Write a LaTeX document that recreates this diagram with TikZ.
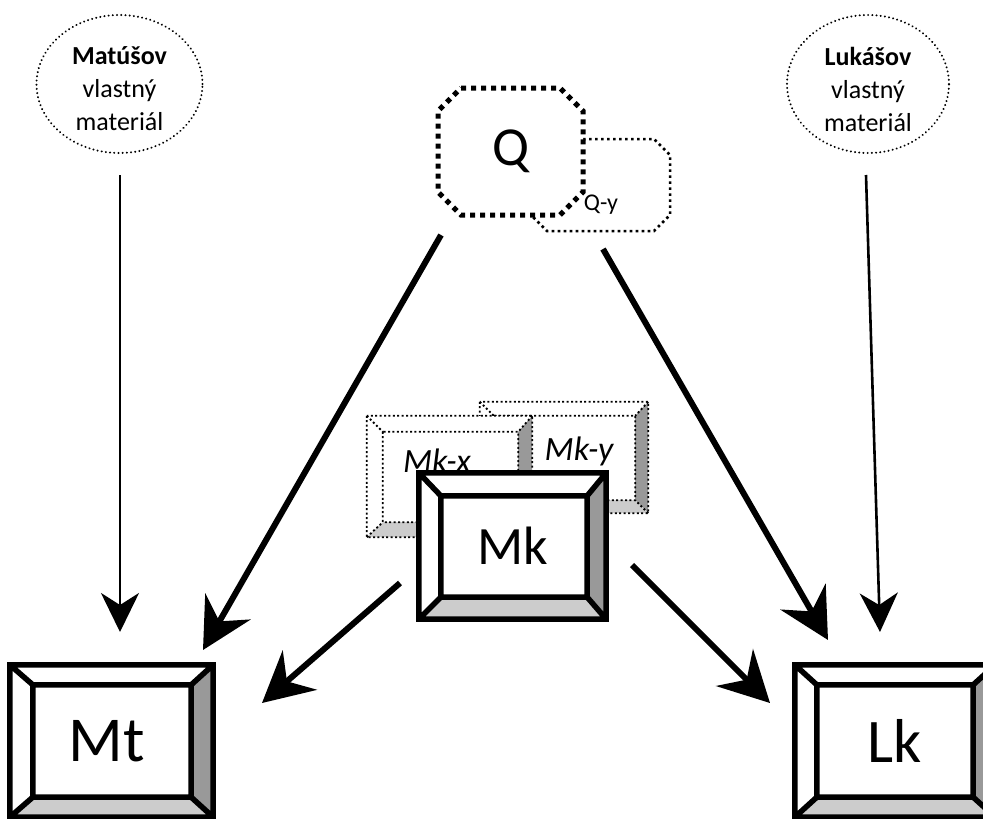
\documentclass[tikz,border=0pt]{standalone}
\usepackage{fontspec}
\setmainfont{Carlito}
\usetikzlibrary{arrows.meta,shapes.geometric,calc}

\definecolor{bevdark}{HTML}{999999}
\definecolor{bevlight}{HTML}{CCCCCC}

\tikzset{
  x=1pt, y=-1pt,
  keynode/.style={rectangle, inner sep=0pt, draw=none, fill=white},
  keyframe/.style={line width=5.5pt, line join=miter},
  keyghost/.style={line width=1.8pt, dash pattern=on 2pt off 2.4pt},
  srcell/.style={ellipse, inner sep=0pt, draw, line width=2.2pt, line cap=round,
    dash pattern=on 0.01pt off 4.2pt},
  srctext/.style={align=center, font=\fontsize{26}{33}\selectfont},
  qline/.style={line width=5pt, dash pattern=on 5pt off 5pt, fill=white},
  qyline/.style={line width=2.5pt, dash pattern=on 2.6pt off 3.4pt, fill=white},
  hidenode/.style={rectangle, inner sep=0pt, draw=none},
  thinarrow/.style={line width=2.6pt, -{Stealth[length=39pt, width=38pt, inset=12pt]}},
  thickarrow/.style={line width=6pt, -{Stealth[length=50pt, width=52pt, inset=17pt]}},
}

% bevelled key: node name, left, top, right, bottom bevel widths, line style
\newcommand\keybevel[6]{%
  \coordinate (#1-inw) at ($(#1.north west)+(#2,#3)$);
  \coordinate (#1-ine) at ($(#1.north east)+(-#4,#3)$);
  \coordinate (#1-ise) at ($(#1.south east)+(-#4,-#5)$);
  \coordinate (#1-isw) at ($(#1.south west)+(#2,-#5)$);
  \fill[bevdark] (#1.north east) -- (#1.south east) -- (#1-ise) -- (#1-ine) -- cycle;
  \fill[bevlight] (#1.south west) -- (#1.south east) -- (#1-ise) -- (#1-isw) -- cycle;
  \draw[#6] (#1.north west) rectangle (#1.south east)
    (#1-inw) rectangle (#1-ise)
    (#1.north west) -- (#1-inw) (#1.north east) -- (#1-ine)
    (#1.south east) -- (#1-ise) (#1.south west) -- (#1-isw);
}

% chamfered octagon: style, x1, y1, x2, y2, chamfer
\newcommand\octagon[6]{%
  \filldraw[#1] (#2+#6,#3) -- (#4-#6,#3) -- (#4,#3+#6) -- (#4,#5-#6)
    -- (#4-#6,#5) -- (#2+#6,#5) -- (#2,#5-#6) -- (#2,#3+#6) -- cycle;
}

\begin{document}
\begin{tikzpicture}
\useasboundingbox (0,0) rectangle (983,819);

% own material sources
\node[srcell, minimum width=166pt, minimum height=138pt] (mat) at (119.5,84) {};
\node[srctext] (matT) at (119.5,89) {\textbf{Matúšov}\\vlastný\\materiál};
\node[srcell, minimum width=162pt, minimum height=138pt] (luk) at (868,84) {};
\node[srctext] (lukT) at (868,89) {\textbf{Lukášov}\\vlastný\\materiál};

% Q and its shadow Q-y
\octagon{qyline}{531}{139}{670}{231}{16}
\node[hidenode, minimum width=139pt, minimum height=92pt] (Qy) at (600.5,185) {};
\octagon{qline}{438}{88}{583}{215}{23}
\node[hidenode, minimum width=145pt, minimum height=127pt,
      font=\fontsize{55}{62}\selectfont] (Q) at (510.5,151.5) {Q};
\node[anchor=base, font=\fontsize{24}{28}\selectfont, inner sep=0pt] (QyT) at (601,210) {Q-y};

% Mk and its shadows
\node[keynode, minimum width=168pt, minimum height=111pt] (Mky) at (564,457.5) {};
\keybevel{Mky}{14}{14}{13}{13}{keyghost}
\node[anchor=base, inner sep=0pt, font=\fontsize{34}{40}\selectfont\itshape] (MkyT) at (579,460) {Mk-y};

\node[keynode, minimum width=165pt, minimum height=121pt] (Mkx) at (449.5,476.5) {};
\keybevel{Mkx}{16}{16}{14}{15}{keyghost}
\node[anchor=base, inner sep=0pt, font=\fontsize{34}{40}\selectfont\itshape] (MkxT) at (437,472) {Mk-x};

\node[keynode, minimum width=187pt, minimum height=146pt,
      font=\fontsize{54}{62}\selectfont] (Mk) at (512.5,546) {Mk};
\keybevel{Mk}{22}{23}{19}{22}{keyframe}

% recipients
\node[keynode, minimum width=203pt, minimum height=152pt,
      font=\fontsize{64}{74}\selectfont] (Mt) at (111.5,741) {Mt\hspace*{10pt}};
\keybevel{Mt}{23}{20}{22}{20}{keyframe}
\node[keynode, minimum width=200pt, minimum height=152pt,
      font=\fontsize{62}{72}\selectfont] (Lk) at (895,741) {Lk};
\keybevel{Lk}{22}{20}{22}{20}{keyframe}

% connector end points
\coordinate (matS) at (120,175);
\coordinate (matE) at (120,632);
\coordinate (lukS) at (866,175);
\coordinate (lukE) at (880,632);
\coordinate (qlS) at (441,235);
\coordinate (qlE) at (203,650);
\coordinate (qrS) at (603,249);
\coordinate (qrE) at (828,640);
\coordinate (mklS) at (400,583);
\coordinate (mklE) at (262,703);
\coordinate (mkrS) at (632,565);
\coordinate (mkrE) at (770,703);

\draw[thinarrow] (matS) -- (matE);
\draw[thinarrow] (lukS) -- (lukE);
\draw[thickarrow] (qlS) -- (qlE);
\draw[thickarrow] (qrS) -- (qrE);
\draw[thickarrow] (mklS) -- (mklE);
\draw[thickarrow] (mkrS) -- (mkrE);
\end{tikzpicture}
\end{document}
